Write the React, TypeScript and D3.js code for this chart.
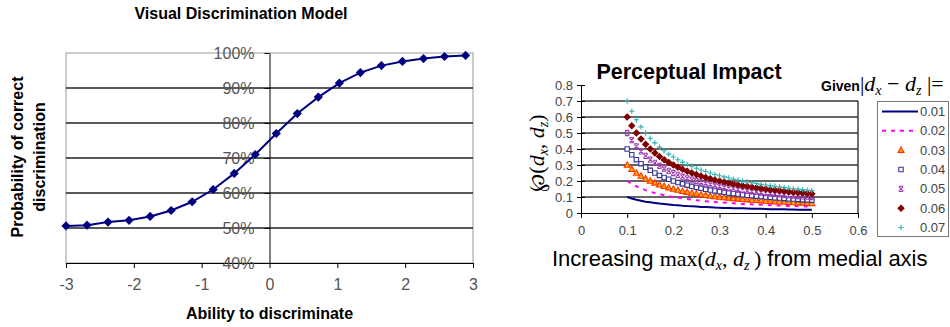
import { useEffect, useRef } from "react";
import * as d3 from "d3";

// Left chart: Visual Discrimination Model
const abilityX = [
  -3, -2.69, -2.38, -2.07, -1.76, -1.45, -1.14, -0.83, -0.52, -0.21, 0.1,
  0.41, 0.72, 1.03, 1.34, 1.65, 1.96, 2.27, 2.58, 2.89,
];
const probCorrect = [
  0.506, 0.508, 0.517, 0.522, 0.533, 0.55, 0.575, 0.61, 0.656, 0.71, 0.77,
  0.827, 0.874, 0.914, 0.944, 0.964, 0.976, 0.984, 0.99, 0.993,
];
const abilityTicks = [-3, -2, -1, 0, 1, 2, 3];
const percentTicks = [0.4, 0.5, 0.6, 0.7, 0.8, 0.9, 1.0];
const percentGrid = [0.5, 0.6, 0.7, 0.8, 0.9];

// Right chart: Perceptual Impact
const maxD = [
  0.1, 0.11, 0.12, 0.13, 0.14, 0.15, 0.16, 0.17, 0.18, 0.19, 0.2, 0.21, 0.22,
  0.23, 0.24, 0.25, 0.26, 0.27, 0.28, 0.29, 0.3, 0.31, 0.32, 0.33, 0.34, 0.35,
  0.36, 0.37, 0.38, 0.39, 0.4, 0.41, 0.42, 0.43, 0.44, 0.45, 0.46, 0.47, 0.48,
  0.49, 0.5,
];
const impact01 = [
  0.1, 0.091, 0.083, 0.077, 0.071, 0.067, 0.063, 0.059, 0.056, 0.053, 0.05,
  0.048, 0.045, 0.043, 0.042, 0.04, 0.038, 0.037, 0.036, 0.034, 0.033, 0.032,
  0.031, 0.03, 0.029, 0.029, 0.028, 0.027, 0.026, 0.026, 0.025, 0.024, 0.024,
  0.023, 0.023, 0.022, 0.022, 0.021, 0.021, 0.02, 0.02,
];
const impact02 = [
  0.2, 0.182, 0.167, 0.154, 0.143, 0.133, 0.125, 0.118, 0.111, 0.105, 0.1,
  0.095, 0.091, 0.087, 0.083, 0.08, 0.077, 0.074, 0.071, 0.069, 0.067, 0.065,
  0.063, 0.061, 0.059, 0.057, 0.056, 0.054, 0.053, 0.051, 0.05, 0.049, 0.048,
  0.047, 0.045, 0.044, 0.043, 0.043, 0.042, 0.041, 0.04,
];
const impact03 = [
  0.3, 0.273, 0.25, 0.231, 0.214, 0.2, 0.188, 0.176, 0.167, 0.158, 0.15, 0.143,
  0.136, 0.13, 0.125, 0.12, 0.115, 0.111, 0.107, 0.103, 0.1, 0.097, 0.094,
  0.091, 0.088, 0.086, 0.083, 0.081, 0.079, 0.077, 0.075, 0.073, 0.071, 0.07,
  0.068, 0.067, 0.065, 0.064, 0.063, 0.061, 0.06,
];
const impact04 = [
  0.4, 0.364, 0.333, 0.308, 0.286, 0.267, 0.25, 0.235, 0.222, 0.211, 0.2, 0.19,
  0.182, 0.174, 0.167, 0.16, 0.154, 0.148, 0.143, 0.138, 0.133, 0.129, 0.125,
  0.121, 0.118, 0.114, 0.111, 0.108, 0.105, 0.103, 0.1, 0.098, 0.095, 0.093,
  0.091, 0.089, 0.087, 0.085, 0.083, 0.082, 0.08,
];
const impact05 = [
  0.5, 0.455, 0.417, 0.385, 0.357, 0.333, 0.313, 0.294, 0.278, 0.263, 0.25,
  0.238, 0.227, 0.217, 0.208, 0.2, 0.192, 0.185, 0.179, 0.172, 0.167, 0.161,
  0.156, 0.152, 0.147, 0.143, 0.139, 0.135, 0.132, 0.128, 0.125, 0.122, 0.119,
  0.116, 0.114, 0.111, 0.109, 0.106, 0.104, 0.102, 0.1,
];
const impact06 = [
  0.6, 0.545, 0.5, 0.462, 0.429, 0.4, 0.375, 0.353, 0.333, 0.316, 0.3, 0.286,
  0.273, 0.261, 0.25, 0.24, 0.231, 0.222, 0.214, 0.207, 0.2, 0.194, 0.188,
  0.182, 0.176, 0.171, 0.167, 0.162, 0.158, 0.154, 0.15, 0.146, 0.143, 0.14,
  0.136, 0.133, 0.13, 0.128, 0.125, 0.122, 0.12,
];
const impact07 = [
  0.7, 0.636, 0.583, 0.538, 0.5, 0.467, 0.438, 0.412, 0.389, 0.368, 0.35,
  0.333, 0.318, 0.304, 0.292, 0.28, 0.269, 0.259, 0.25, 0.241, 0.233, 0.226,
  0.219, 0.212, 0.206, 0.2, 0.194, 0.189, 0.184, 0.179, 0.175, 0.171, 0.167,
  0.163, 0.159, 0.156, 0.152, 0.149, 0.146, 0.143, 0.14,
];
const impactLabels = ["0.01", "0.02", "0.03", "0.04", "0.05", "0.06", "0.07"];
const impactValues = [
  impact01, impact02, impact03, impact04, impact05, impact06, impact07,
];
const impactXTicks = [0, 0.1, 0.2, 0.3, 0.4, 0.5, 0.6];
const impactYTicks = [0, 0.1, 0.2, 0.3, 0.4, 0.5, 0.6, 0.7, 0.8];
const impactGrid = [0.1, 0.2, 0.3, 0.4, 0.5, 0.6, 0.7];

const SANS = "'Liberation Sans', Arial, sans-serif";
const SERIF = "'Liberation Serif', 'Times New Roman', serif";

type Style = {
  kind: "line" | "marker";
  stroke: string;
  fill?: string;
  width?: number;
  dash?: string;
  shape?: string;
};

const impactStyles: Style[] = [
  { kind: "line", stroke: "#000080", width: 2 },
  { kind: "line", stroke: "#ff00ff", width: 2, dash: "4,5" },
  { kind: "marker", shape: "triangle", stroke: "#ff3300", fill: "#ffaa00" },
  { kind: "marker", shape: "square", stroke: "#333399", fill: "#ffffff" },
  { kind: "marker", shape: "star", stroke: "#a040b0", fill: "none" },
  { kind: "marker", shape: "diamond", stroke: "#800000", fill: "#800000" },
  { kind: "marker", shape: "plus", stroke: "#33b0b0", fill: "none" },
];

const markerPath: Record<string, string> = {
  triangle: "M0,-3.2L3,2.2L-3,2.2Z",
  square: "M-2.2,-2.2H2.2V2.2H-2.2Z",
  star: "M-2.2,-2.2L2.2,2.2M-2.2,2.2L2.2,-2.2M-2.2,-2.6H2.2M-2.2,2.6H2.2",
  diamond: "M0,-3L3,0L0,3L-3,0Z",
  plus: "M-2.7,0H2.7M0,-2.7V2.7",
};

type G = d3.Selection<SVGGElement, unknown, null, undefined>;

function hLines(g: G, values: number[], x1: number, x2: number, y: (v: number) => number, color: string) {
  const grid = g.append("g").attr("class", "grid");
  grid
    .selectAll("line")
    .data(values)
    .join("line")
    .attr("x1", x1)
    .attr("x2", x2)
    .attr("y1", (d) => y(d))
    .attr("y2", (d) => y(d))
    .style("stroke", color)
    .style("stroke-width", "1.4px");
}

function drawDiscrimination(g: G) {
  const x = d3.scaleLinear().domain([-3, 3]).range([66, 473]);
  const y = d3.scaleLinear().domain([0.4, 1]).range([263, 53]);

  g.append("rect")
    .attr("x", x(-3))
    .attr("y", y(1))
    .attr("width", x(3) - x(-3))
    .attr("height", y(0.4) - y(1))
    .attr("fill", "none")
    .attr("stroke", "#999");

  hLines(g, percentGrid, x(-3), x(3), y, "#222");

  const xAxis = g
    .append("g")
    .attr("transform", `translate(0,${y(0.4)})`)
    .call(
      d3
        .axisBottom(x)
        .tickValues(abilityTicks)
        .tickSize(5)
        .tickSizeOuter(0)
        .tickPadding(11)
        .tickFormat((d) => String(d)),
    );

  const yAxis = g
    .append("g")
    .attr("transform", `translate(${x(0)},0)`)
    .call(
      d3
        .axisLeft(y)
        .tickValues(percentTicks)
        .tickSize(5)
        .tickSizeOuter(0)
        .tickPadding(10)
        .tickFormat(d3.format(".0%")),
    );

  [xAxis, yAxis].forEach((a) => {
    a.attr("font-family", SANS).attr("font-size", 16);
    a.selectAll(".domain, .tick line").attr("stroke", "#000");
    a.selectAll("text").attr("fill", "#555");
  });

  const line = d3
    .line<number>()
    .x((_, i) => x(abilityX[i]))
    .y((d) => y(d));

  g.append("path")
    .datum(probCorrect)
    .attr("d", line)
    .attr("fill", "none")
    .attr("stroke", "#000080")
    .attr("stroke-width", 2);

  g.append("g")
    .selectAll("path")
    .data(probCorrect)
    .join("path")
    .attr("d", "M0,-4.6L4.6,0L0,4.6L-4.6,0Z")
    .attr("transform", (d, i) => `translate(${x(abilityX[i])},${y(d)})`)
    .attr("fill", "#000080");

  g.append("text")
    .attr("x", 241)
    .attr("y", 19)
    .attr("text-anchor", "middle")
    .attr("font-family", SANS)
    .attr("font-weight", "bold")
    .attr("font-size", 16)
    .text("Visual Discrimination Model");

  g.append("text")
    .attr("x", x(0))
    .attr("y", 319)
    .attr("text-anchor", "middle")
    .attr("font-family", SANS)
    .attr("font-weight", "bold")
    .attr("font-size", 16)
    .text("Ability to discriminate");

  const yl = g
    .append("g")
    .attr("transform", "translate(0,157) rotate(-90)")
    .attr("font-family", SANS)
    .attr("font-weight", "bold")
    .attr("font-size", 16)
    .attr("text-anchor", "middle");
  yl.append("text").attr("y", 23).text("Probability of correct");
  yl.append("text").attr("y", 45).text("discrimination");
}

function drawImpact(g: G) {
  const x = d3.scaleLinear().domain([0, 0.6]).range([581, 858]);
  const y = d3.scaleLinear().domain([0, 0.8]).range([213, 85]);

  hLines(g, impactGrid, x(0), x(0.6), y, "#333");

  g.append("path")
    .attr("d", `M${x(0.6)},${y(0)}V${y(0.7)}`)
    .style("stroke", "#333")
    .style("stroke-width", "1.4px")
    .style("fill", "none");

  const fmt = (d: d3.NumberValue) => (d === 0 ? "0" : d3.format(".1f")(d));

  const xAxis = g
    .append("g")
    .attr("transform", `translate(0,${y(0)})`)
    .call(
      d3
        .axisBottom(x)
        .tickValues(impactXTicks)
        .tickSize(5)
        .tickSizeOuter(0)
        .tickPadding(8)
        .tickFormat(fmt),
    );

  const yAxis = g
    .append("g")
    .attr("transform", `translate(${x(0)},0)`)
    .call(
      d3
        .axisLeft(y)
        .tickValues(impactYTicks)
        .tickSize(4)
        .tickSizeOuter(0)
        .tickPadding(4)
        .tickFormat(fmt),
    );
  yAxis.selectAll(".tick line").attr("x2", 4).attr("x1", -4);

  [xAxis, yAxis].forEach((a) => {
    a.attr("font-family", SANS).attr("font-size", 13);
    a.selectAll(".domain, .tick line").attr("stroke", "#000");
    a.selectAll("text").attr("fill", "#444");
  });

  impactValues.forEach((vals, si) => {
    const st = impactStyles[si];
    if (st.kind === "line") {
      const line = d3
        .line<number>()
        .x((_, i) => x(maxD[i]))
        .y((d) => y(d));
      g.append("path")
        .datum(vals)
        .attr("d", line)
        .attr("fill", "none")
        .attr("stroke", st.stroke)
        .attr("stroke-width", st.width ?? 1)
        .attr("stroke-dasharray", st.dash ?? null);
    } else {
      g.append("g")
        .selectAll("path")
        .data(vals)
        .join("path")
        .attr("d", markerPath[st.shape!])
        .attr("transform", (d, i) => `translate(${x(maxD[i])},${y(d)})`)
        .attr("fill", st.fill ?? "none")
        .attr("stroke", st.stroke)
        .attr("stroke-width", 1.1);
    }
  });

  g.append("text")
    .attr("x", 689)
    .attr("y", 79)
    .attr("text-anchor", "middle")
    .attr("font-family", SANS)
    .attr("font-weight", "bold")
    .attr("font-size", 21.5)
    .text("Perceptual Impact");

  // x axis label, mixed fonts
  const xl = g
    .append("text")
    .attr("x", 552)
    .attr("y", 266)
    .attr("font-family", SANS)
    .attr("font-size", 22)
    .style("white-space", "pre");
  xl.append("tspan").text("Increasing ");
  xl.append("tspan").attr("font-family", SERIF).text("max(");
  xl.append("tspan").attr("font-family", SERIF).attr("font-style", "italic").text("d");
  xl.append("tspan").attr("font-family", SERIF).attr("font-style", "italic").attr("font-size", 14).attr("dy", 4).text("x");
  xl.append("tspan").attr("font-family", SERIF).attr("dy", -4).text(", ");
  xl.append("tspan").attr("font-family", SERIF).attr("font-style", "italic").text("d");
  xl.append("tspan").attr("font-family", SERIF).attr("font-style", "italic").attr("font-size", 14).attr("dy", 4).text("z");
  xl.append("tspan").attr("font-family", SERIF).attr("dy", -4).text("\u2009)");
  xl.append("tspan").text(" from medial axis");

  // y axis label, rotated
  const yl = g
    .append("text")
    .attr("transform", "translate(544,153) rotate(-90)")
    .attr("text-anchor", "middle")
    .attr("font-family", SERIF)
    .attr("font-size", 22)
    .style("white-space", "pre");
  yl.append("tspan").text("\u2118(");
  yl.append("tspan").attr("font-style", "italic").text("d");
  yl.append("tspan").attr("font-style", "italic").attr("font-size", 14).attr("dy", 4).text("x");
  yl.append("tspan").attr("dy", -4).text(", ");
  yl.append("tspan").attr("font-style", "italic").text("d");
  yl.append("tspan").attr("font-style", "italic").attr("font-size", 14).attr("dy", 4).text("z");
  yl.append("tspan").attr("dy", -4).text(")");

  // legend title
  const lt = g
    .append("text")
    .attr("x", 821)
    .attr("y", 91)
    .attr("font-family", SERIF)
    .attr("font-size", 22)
    .style("white-space", "pre");
  lt.append("tspan").attr("font-family", SANS).attr("font-weight", "bold").attr("font-size", 14).text("Given");
  lt.append("tspan").text("|");
  lt.append("tspan").attr("font-style", "italic").text("d");
  lt.append("tspan").attr("font-style", "italic").attr("font-size", 14).attr("dy", 4).text("x");
  lt.append("tspan").attr("dy", -4).text(" \u2212 ");
  lt.append("tspan").attr("font-style", "italic").text("d");
  lt.append("tspan").attr("font-style", "italic").attr("font-size", 14).attr("dy", 4).text("z");
  lt.append("tspan").attr("dy", -4).text(" |=");

  // legend box
  const legY = d3
    .scalePoint<string>()
    .domain(impactLabels)
    .range([111.5, 227.5]);
  g.append("rect")
    .attr("x", 877.5)
    .attr("y", 101.5)
    .attr("width", 71)
    .attr("height", 135)
    .attr("fill", "#fff")
    .attr("stroke", "#777");

  impactLabels.forEach((lab, si) => {
    const st = impactStyles[si];
    const cy = legY(lab)!;
    if (st.kind === "line") {
      g.append("line")
        .attr("x1", 882)
        .attr("x2", 918)
        .attr("y1", cy)
        .attr("y2", cy)
        .attr("stroke", st.stroke)
        .attr("stroke-width", st.width ?? 1)
        .attr("stroke-dasharray", st.dash ?? null);
    } else {
      g.append("path")
        .attr("d", markerPath[st.shape!])
        .attr("transform", `translate(901,${cy})`)
        .attr("fill", st.fill ?? "none")
        .attr("stroke", st.stroke)
        .attr("stroke-width", 1.1);
    }
    g.append("text")
      .attr("x", 920)
      .attr("y", cy)
      .attr("dy", "0.35em")
      .attr("font-family", SANS)
      .attr("font-size", 13)
      .attr("fill", "#444")
      .text(lab);
  });
}

export default function App() {
  const svgRef = useRef<SVGSVGElement>(null);

  useEffect(() => {
    if (!svgRef.current) return;
    const svg = d3.select(svgRef.current);
    svg.selectAll("*").remove();
    drawDiscrimination(svg.append("g"));
    drawImpact(svg.append("g"));
  }, []);

  return (
    <svg
      ref={svgRef}
      width={950}
      height={327}
      style={{ position: "absolute", left: 0, top: 0, background: "#fff" }}
    />
  );
}
